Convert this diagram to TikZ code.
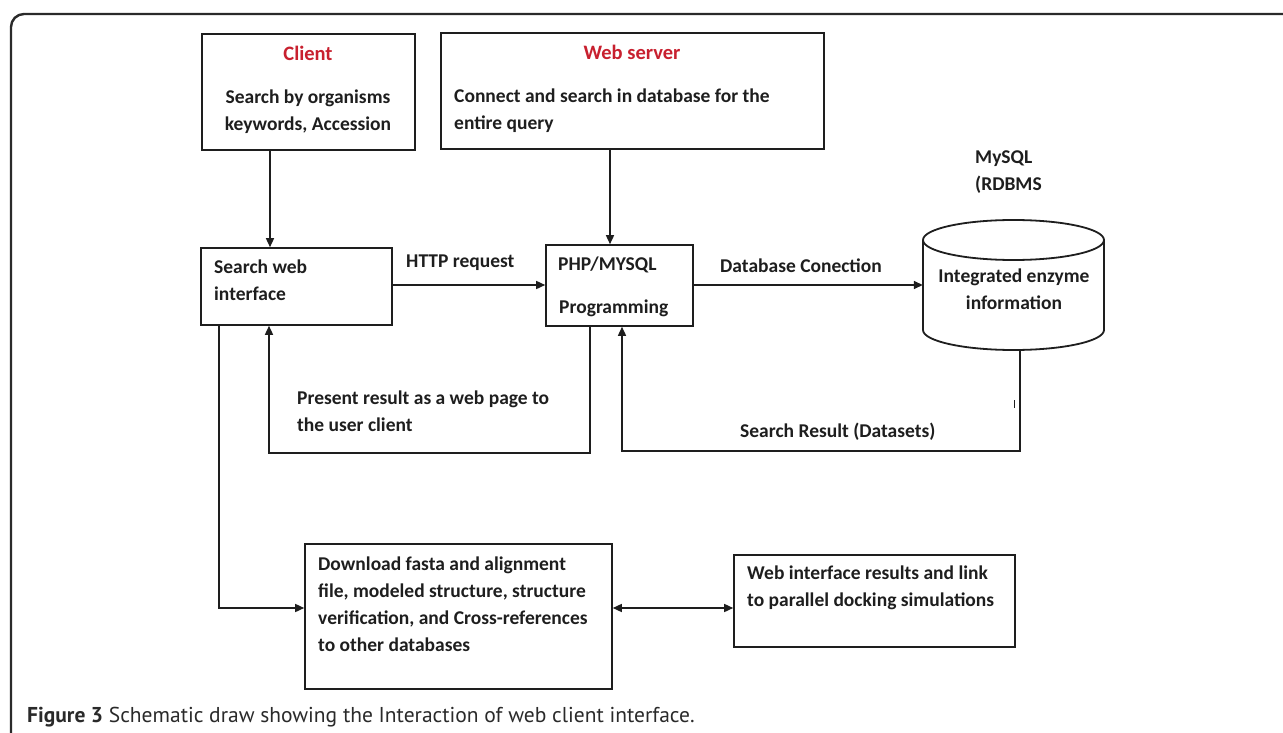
\documentclass[tikz,border=0pt]{standalone}
\usepackage{fontspec}
\setmainfont{Carlito}
\newfontfamily\capfont{PT Sans}
\usetikzlibrary{arrows.meta}
\definecolor{redtxt}{HTML}{C8202F}
\definecolor{ink}{HTML}{1E1E1E}
\definecolor{framec}{HTML}{2A2A2A}
\tikzset{
  box/.style={draw=ink, line width=1.6pt, rectangle, inner sep=0pt},
  txt/.style={font=\bfseries\fontsize{19.5}{27}\selectfont, inner sep=0pt, text=ink, align=left, anchor=west},
  ctxt/.style={font=\bfseries\fontsize{19.5}{27}\selectfont, inner sep=0pt, text=ink, align=center, anchor=center},
  rtxt/.style={font=\bfseries\fontsize{20.5}{24}\selectfont, inner sep=0pt, text=redtxt, anchor=center},
  conn/.style={draw=ink, line width=1.5pt},
  arr/.style={conn, -{Triangle[length=9pt,width=8pt]}},
  darr/.style={conn, {Triangle[length=9pt,width=8pt]}-{Triangle[length=9pt,width=8pt]}}
}
\begin{document}
\begin{tikzpicture}[x=1pt,y=-1pt]
\useasboundingbox (0,0) rectangle (1283,733);
\fill[white] (0,0) rectangle (1283,733);
% outer frame
\draw[line width=2.4pt, framec] (11,733) -- (11,27) arc[start angle=180, end angle=90, radius=13pt] -- (1283,14);

% boxes
\node[box, minimum width=213pt, minimum height=116pt] (client) at (308.5,92) {};
\node[box, minimum width=383pt, minimum height=116pt] (web) at (632.5,91) {};
\node[box, minimum width=191pt, minimum height=77pt] (search) at (296.5,286.5) {};
\node[box, minimum width=147pt, minimum height=81pt] (php) at (619.5,285.5) {};
\node[box, minimum width=307pt, minimum height=145pt] (dl) at (458.5,616.5) {};
\node[box, minimum width=281pt, minimum height=92pt] (wi) at (874.5,601) {};
% database cylinder
\node[minimum width=181pt, minimum height=130pt, inner sep=0pt] (db) at (1013.5,285) {};
\draw[draw=ink, line width=1.8pt] (1013.5,240) ellipse [x radius=90.5pt, y radius=20pt];
\draw[draw=ink, line width=1.8pt] (923,240) -- (923,330) arc[start angle=180, end angle=360, x radius=90.5pt, y radius=20pt] -- (1104,240);

% texts
\node[rtxt] (tclient) at (308,53) {Client};
\node[ctxt] (tclient2) at (308,112) {Search by organisms\\keywords, Accession};
\node[rtxt] (tweb) at (632,52) {Web server};
\node[txt] (tweb2) at (454,110.5) {Connect and search in database for the\\entire query};
\node[txt] (tsearch) at (214,280) {Search web\\interface};
\node[txt] (tphp1) at (558,265) {PHP/MYSQL};
\node[txt] (tphp2) at (559,308) {Programming};
\node[txt] (thttp) at (406,263) {HTTP request};
\node[txt] (tdbc) at (720,266) {Database Conection};
\node[txt] (tmysql) at (975,172) {MySQL\\(RDBMS};
\node[ctxt] (tdb) at (1014,289.5) {Integrated enzyme\\information};
\node[txt] (tpres) at (297,411.5) {Present result as a web page to\\the user client};
\node[txt] (tsr) at (740,432) {Search Result (Datasets)};
\node[txt] (tdl) at (318,604.5) {Download fasta and alignment\\file, modeled structure, structure\\verification, and Cross-references\\to other databases};
\node[txt] (twi) at (747,588) {Web interface results and link\\to parallel docking simulations};
\node[inner sep=0pt, anchor=west, text=framec, font=\capfont\fontsize{21.5}{24}\selectfont] (cap) at (27,717) {\textbf{Figure 3} Schematic draw showing the Interaction of web client interface.};

% helper coordinates
\coordinate (c1) at (270,0);
\coordinate (c2) at (610,0);
\coordinate (h1) at (0,285);
\coordinate (pr) at (269,453);
\coordinate (pr2) at (590,453);
\coordinate (sr) at (622,451);
\coordinate (sr2) at (1020,451);
\coordinate (dlk) at (219,608);

% connectors
\draw[arr] (client.south -| c1) -- (search.north -| c1);
\draw[arr] (web.south -| c2) -- (php.north -| c2);
\draw[arr] (search.east |- h1) -- (php.west |- h1);
\draw[arr] (php.east |- h1) -- (db.west |- h1);
\draw[arr] (php.south -| pr2) -- (pr2) -- (pr) -- (search.south -| pr);
\draw[arr] (db.south -| sr2) -- (sr2) -- (sr) -- (php.south -| sr);
\draw[arr] (search.south -| dlk) -- (dlk) -- (dl.west |- dlk);
\draw[darr] (dl.east |- dlk) -- (wi.west |- dlk);
\draw[ink, line width=0.8pt] (1014,400) -- (1014,408);
\end{tikzpicture}
\end{document}
